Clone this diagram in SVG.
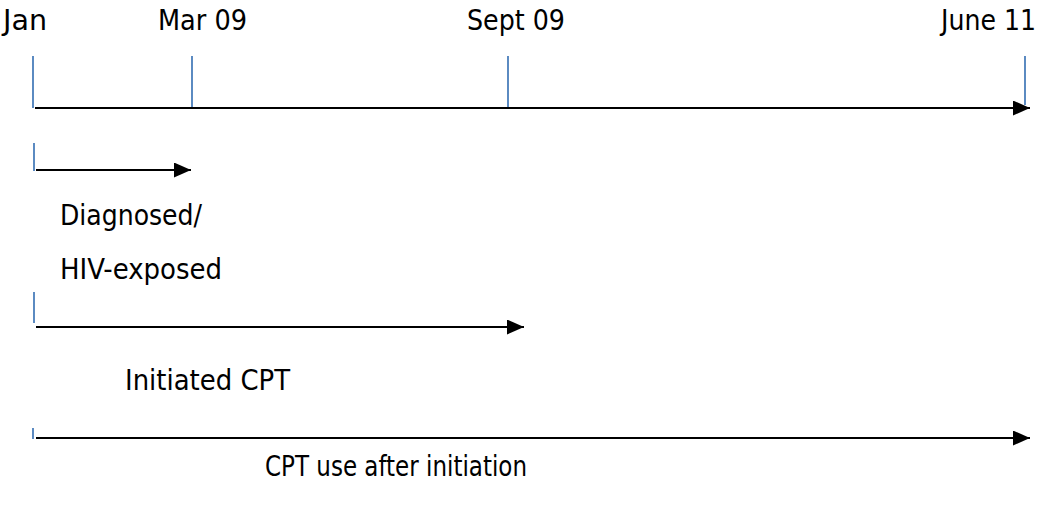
<svg xmlns="http://www.w3.org/2000/svg" width="1038" height="505" viewBox="0 0 1038 505">
<style>
text{font-family:"DejaVu Sans Condensed","DejaVu Sans",Tahoma,sans-serif;font-size:28px;fill:#000}
.tick{stroke:#4A7EBB;stroke-width:1.8;fill:none}
.arrow{stroke:#000;stroke-width:2.2;fill:none;marker-end:url(#ah)}
</style>
<defs>
<marker id="ah" markerUnits="userSpaceOnUse" markerWidth="17" markerHeight="15" refX="17" refY="7.5" orient="auto">
<path d="M0,0 L17,7.5 L0,15 Z" fill="#000"/>
</marker>
</defs>
<g id="labels-top">
<text x="3" y="30" textLength="44" lengthAdjust="spacingAndGlyphs">Jan</text>
<text x="158" y="30" textLength="89" lengthAdjust="spacingAndGlyphs">Mar 09</text>
<text x="467" y="30" textLength="98" lengthAdjust="spacingAndGlyphs">Sept 09</text>
<text x="1036" y="30" text-anchor="end">June 11</text>
</g>
<g id="ticks">
<line class="tick" x1="33" y1="56" x2="33" y2="108"/>
<line class="tick" x1="192" y1="56" x2="192" y2="108"/>
<line class="tick" x1="508" y1="56" x2="508" y2="108"/>
<line class="tick" x1="1025" y1="56" x2="1025" y2="105"/>
<line class="tick" x1="34" y1="143" x2="34" y2="171"/>
<line class="tick" x1="34" y1="292" x2="34" y2="323"/>
<line class="tick" x1="33" y1="428" x2="33" y2="439"/>
</g>
<g id="connectors">
<line class="arrow" x1="35" y1="108" x2="1030" y2="108"/>
<line class="arrow" x1="36" y1="170" x2="191" y2="170"/>
<line class="arrow" x1="36" y1="327" x2="524" y2="327"/>
<line class="arrow" x1="36" y1="438" x2="1030" y2="438"/>
</g>
<g id="diagnosed">
<text x="60" y="225" textLength="142" lengthAdjust="spacingAndGlyphs">Diagnosed/</text>
<text x="60" y="279" textLength="162" lengthAdjust="spacingAndGlyphs">HIV-exposed</text>
</g>
<g id="initiated">
<text x="125" y="390" textLength="165" lengthAdjust="spacingAndGlyphs">Initiated CPT</text>
</g>
<g id="cpt-use">
<text x="265" y="476" textLength="262" lengthAdjust="spacingAndGlyphs">CPT use after initiation</text>
</g>
</svg>
